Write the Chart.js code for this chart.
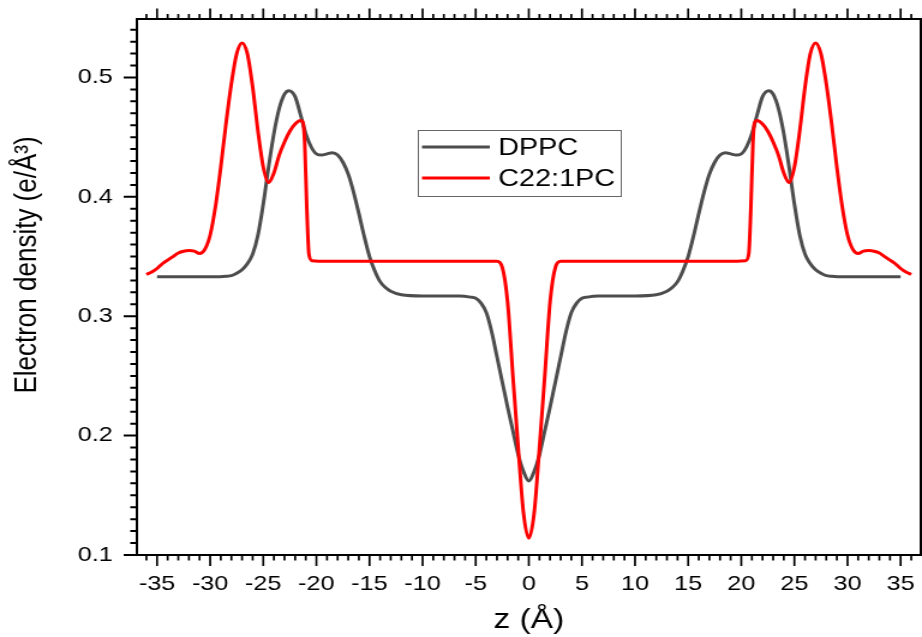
<!DOCTYPE html>
<html>
<head>
<meta charset="utf-8">
<script src="https://cdn.jsdelivr.net/npm/chart.js@4/dist/chart.umd.min.js"></script>
<style>
  html, body { margin: 0; padding: 0; background: #fff; overflow: hidden; }
  #wrap { width: 768px; height: 637px; transform: scaleX(1.2005); transform-origin: 0 0; }
  canvas { display: block; }
</style>
</head>
<body>
<div id="wrap"><canvas id="c" width="768" height="637"></canvas></div>
<script>
// Electron density profiles across the bilayer, z in Å
const dppcZ = [-35, -33, -31, -29.5, -28.5, -28, -27.5, -27, -26.5, -26, -25.5, -25, -24.5, -24, -23.5, -23, -22.6, -22, -21.5, -21, -20.5, -20, -19.5, -19, -18.5, -18, -17.5, -17, -16.5, -16, -15.5, -15, -14.5, -14, -13.5, -13, -12, -10, -8, -6.5, -5.5, -5, -4.5, -4, -3.5, -3, -2.5, -2, -1.5, -1, -0.5, 0,
  0.5, 1, 1.5, 2, 2.5, 3, 3.5, 4, 4.5, 5, 5.5, 6.5, 8, 10, 12, 13, 13.5, 14, 14.5, 15, 15.5, 16, 16.5, 17, 17.5, 18, 18.5, 19, 19.5, 20, 20.5, 21, 21.5, 22, 22.6, 23, 23.5, 24, 24.5, 25, 25.5, 26, 26.5, 27, 27.5, 28, 28.5, 29.5, 31, 33, 35];
const dppcRho = [0.333, 0.333, 0.333, 0.333, 0.3335, 0.334, 0.336, 0.339, 0.344, 0.352, 0.368, 0.394, 0.425, 0.453, 0.474, 0.486, 0.489, 0.484, 0.469, 0.453, 0.442, 0.436, 0.435, 0.436, 0.437, 0.435, 0.429, 0.419, 0.404, 0.386, 0.367, 0.350, 0.338, 0.329, 0.324, 0.321, 0.318, 0.317, 0.317, 0.317, 0.316, 0.315, 0.311, 0.303, 0.287, 0.266, 0.245, 0.224, 0.204, 0.184, 0.170, 0.162,
  0.170, 0.184, 0.204, 0.224, 0.245, 0.266, 0.287, 0.303, 0.311, 0.315, 0.316, 0.317, 0.317, 0.317, 0.318, 0.321, 0.324, 0.329, 0.338, 0.350, 0.367, 0.386, 0.404, 0.419, 0.429, 0.435, 0.437, 0.436, 0.435, 0.436, 0.442, 0.453, 0.469, 0.484, 0.489, 0.486, 0.474, 0.453, 0.425, 0.394, 0.368, 0.352, 0.344, 0.339, 0.336, 0.334, 0.3335, 0.333, 0.333, 0.333, 0.333];

const c22Z = [-36, -35.5, -35, -34.5, -34, -33.5, -33, -32.5, -32, -31.5, -31, -30.5, -30, -29.5, -29, -28.5, -28, -27.5, -27, -26.5, -26, -25.5, -25, -24.5, -24, -23.5, -23, -22.5, -22, -21.5, -21.25, -21.1, -20.9, -20.7, -20.4, -19, -10, -4, -3, -2.5, -2, -1.5, -1, -0.5, 0,
  0.5, 1, 1.5, 2, 2.5, 3, 4, 10, 19, 20.4, 20.7, 20.9, 21.1, 21.25, 21.5, 22, 22.5, 23, 23.5, 24, 24.5, 25, 25.5, 26, 26.5, 27, 27.5, 28, 28.5, 29, 29.5, 30, 30.5, 31, 31.5, 32, 32.5, 33, 33.5, 34, 34.5, 35, 35.5, 36];
const c22Rho = [0.335, 0.337, 0.340, 0.344, 0.347, 0.350, 0.353, 0.3545, 0.355, 0.3545, 0.3525, 0.356, 0.368, 0.392, 0.425, 0.462, 0.495, 0.520, 0.529, 0.520, 0.492, 0.455, 0.425, 0.412, 0.420, 0.435, 0.446, 0.455, 0.461, 0.464, 0.462, 0.445, 0.390, 0.352, 0.3465, 0.346, 0.346, 0.346, 0.346, 0.341, 0.312, 0.250, 0.190, 0.135, 0.114,
  0.135, 0.190, 0.250, 0.312, 0.341, 0.346, 0.346, 0.346, 0.346, 0.3465, 0.352, 0.390, 0.445, 0.462, 0.464, 0.461, 0.455, 0.446, 0.435, 0.420, 0.412, 0.425, 0.455, 0.492, 0.520, 0.529, 0.520, 0.495, 0.462, 0.425, 0.392, 0.368, 0.356, 0.3525, 0.3545, 0.355, 0.3545, 0.353, 0.350, 0.347, 0.344, 0.340, 0.337, 0.335];

const xTickLabels = [-35, -30, -25, -20, -15, -10, -5, 0, 5, 10, 15, 20, 25, 30, 35];
const yTickLabels = [0.1, 0.2, 0.3, 0.4, 0.5];
const seriesNames = ['DPPC', 'C22:1PC'];
const seriesColors = ['#4d4d4d', '#ff0000'];

const FONT = '"Liberation Sans", Arial, sans-serif';

const toPoints = (zs, vs) => zs.map((z, i) => ({ x: z, y: vs[i] }));

// Box frame with major/minor ticks on bottom, top and left edges
const frameTicks = {
  id: 'frameTicks',
  afterDraw(chart) {
    const { ctx, chartArea: a, scales: { x, y } } = chart;
    ctx.save();
    ctx.strokeStyle = '#000';
    ctx.lineWidth = 2;
    ctx.strokeRect(a.left, a.top, a.right - a.left, a.bottom - a.top);
    ctx.lineWidth = 1.7;
    ctx.beginPath();
    for (let v = Math.ceil(x.min); v <= x.max; v++) {
      const px = x.getPixelForValue(v);
      const major = v % 5 === 0;
      ctx.moveTo(px, a.bottom); ctx.lineTo(px, a.bottom + (major ? 11 : 5.5));
      ctx.moveTo(px, a.top); ctx.lineTo(px, a.top - (major ? 10.5 : 5));
    }
    ctx.stroke();
    ctx.lineWidth = 2;
    ctx.beginPath();
    for (let k = 10; k <= Math.floor(y.max * 100 + 1e-6); k++) {
      const py = y.getPixelForValue(k / 100);
      const major = k % 10 === 0;
      ctx.moveTo(a.left, py); ctx.lineTo(a.left - (major ? 11 : 5.5), py);
    }
    ctx.stroke();

    // vertical axis title
    ctx.fillStyle = '#000';
    ctx.font = '26px ' + FONT;
    ctx.textAlign = 'center';
    ctx.textBaseline = 'middle';
    ctx.translate(22.9, 265);
    ctx.rotate(-Math.PI / 2);
    ctx.fillText('Electron density (e/Å³)', 0, 0);
    ctx.restore();
  }
};

// Framed legend inside the plot
const boxLegend = {
  id: 'boxLegend',
  afterDraw(chart) {
    const { ctx } = chart;
    ctx.save();
    ctx.strokeStyle = '#666';
    ctx.lineWidth = 1;
    ctx.strokeRect(348.5, 130.5, 169, 66);
    const rows = [147, 178];
    ctx.font = '24px ' + FONT;
    ctx.textAlign = 'left';
    ctx.textBaseline = 'middle';
    seriesNames.forEach((name, i) => {
      ctx.strokeStyle = seriesColors[i];
      ctx.lineWidth = 3;
      ctx.beginPath();
      ctx.moveTo(351.5, rows[i]); ctx.lineTo(408, rows[i]);
      ctx.stroke();
      ctx.fillStyle = '#000';
      ctx.fillText(name, 415, rows[i] + 1);
    });
    ctx.restore();
  }
};

new Chart(document.getElementById('c'), {
  type: 'line',
  data: {
    datasets: [
      { label: seriesNames[1], data: toPoints(c22Z, c22Rho), borderColor: seriesColors[1], borderWidth: 3, pointRadius: 0, cubicInterpolationMode: 'monotone' },
      { label: seriesNames[0], data: toPoints(dppcZ, dppcRho), borderColor: seriesColors[0], borderWidth: 3, pointRadius: 0, cubicInterpolationMode: 'monotone' }
    ]
  },
  options: {
    responsive: false,
    animation: false,
    events: [],
    layout: { padding: { top: 19, right: 1, left: 0, bottom: 0 } },
    plugins: { legend: { display: false }, tooltip: { enabled: false } },
    scales: {
      x: {
        type: 'linear', min: -36.9, max: 36.9,
        afterFit: s => { s.height = 82; s.paddingLeft = 0; s.paddingRight = 0; },
        afterBuildTicks: s => { s.ticks = xTickLabels.map(v => ({ value: v })); },
        grid: { display: false, drawTicks: false },
        border: { display: false },
        ticks: { autoSkip: false, maxRotation: 0, padding: 17, color: '#000', font: { family: FONT, size: 21 } },
        title: { display: true, text: 'z (Å)', color: '#000', font: { family: FONT, size: 28 }, padding: { top: 0, bottom: 0 } }
      },
      y: {
        type: 'linear', min: 0.1, max: 0.549,
        afterFit: s => { s.width = 114; s.paddingTop = 0; s.paddingBottom = 0; },
        afterBuildTicks: s => { s.ticks = yTickLabels.map(v => ({ value: v })); },
        grid: { display: false, drawTicks: false },
        border: { display: false },
        ticks: { padding: 20, color: '#000', font: { family: FONT, size: 21 }, callback: v => v.toFixed(1) }
      }
    }
  },
  plugins: [frameTicks, boxLegend]
});
</script>
</body>
</html>
